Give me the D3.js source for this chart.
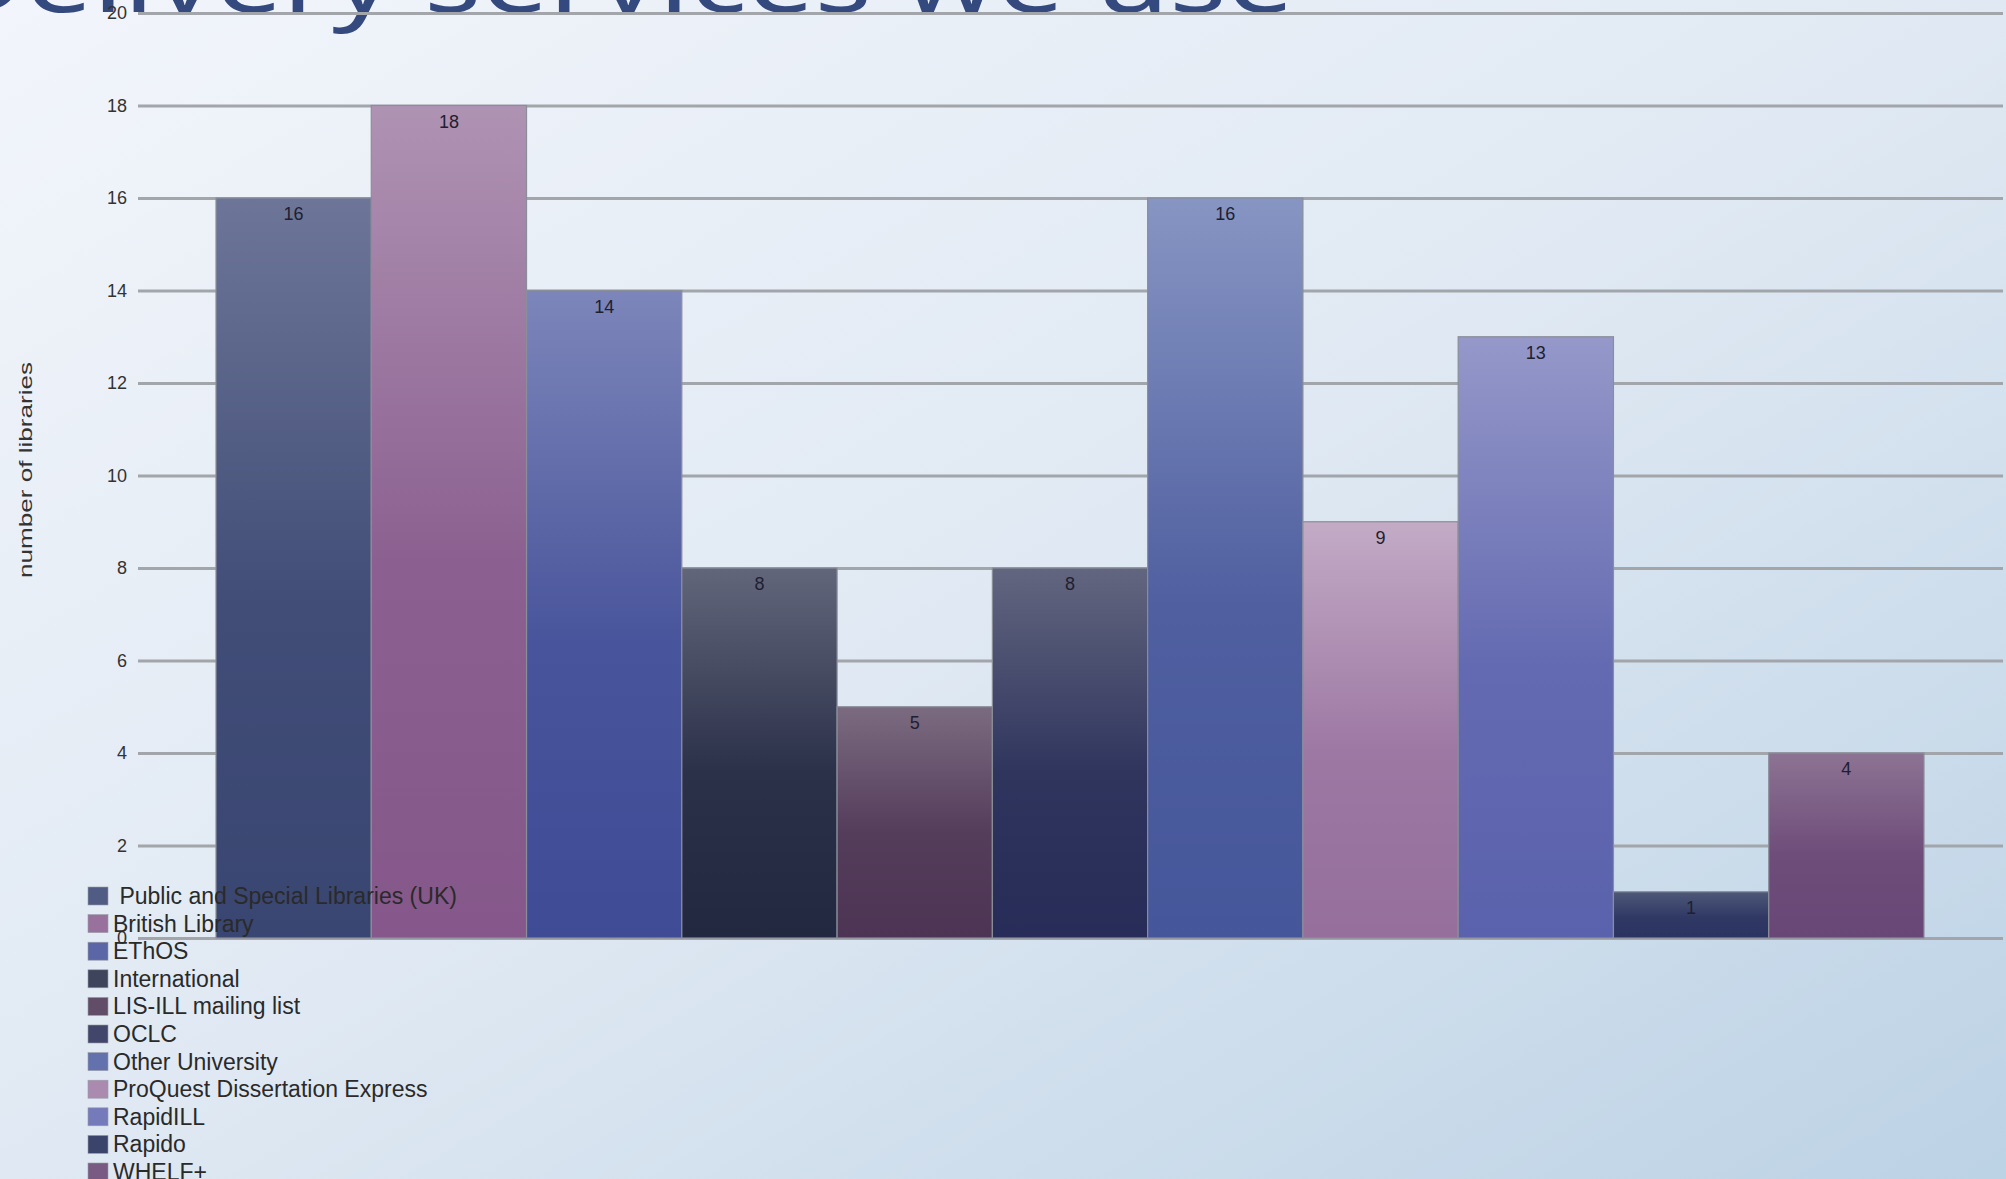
<!DOCTYPE html>
<html>
<head>
<meta charset="utf-8">
<script src="https://cdn.jsdelivr.net/npm/d3@7"></script>
<style>
  html, body { margin: 0; padding: 0; overflow: hidden; }
  svg { display: block; }
</style>
</head>
<body>
<svg id="chart" width="2006" height="1179"></svg>
<script>
// ---- data ----
const categories = [
  "Public and Special Libraries (UK)",
  "British Library",
  "EThOS",
  "International",
  "LIS-ILL mailing list",
  "OCLC",
  "Other University",
  "ProQuest Dissertation Express",
  "RapidILL",
  "Rapido",
  "WHELF+"
];
const values = [16, 18, 14, 8, 5, 8, 16, 9, 13, 1, 4];
const legendLabels = [
  " Public and Special Libraries (UK)",
  "British Library",
  "EThOS",
  "International",
  "LIS-ILL mailing list",
  "OCLC",
  "Other University",
  "ProQuest Dissertation Express",
  "RapidILL",
  "Rapido",
  "WHELF+"
];
const yTicks = [0, 2, 4, 6, 8, 10, 12, 14, 16, 18, 20];
const titleText = "Delivery services we use";
const yTitle = "number of libraries";

// ---- palette ----
const topColors = ["#6d7698", "#af93b3", "#7d86ba", "#62667b", "#7b6b80", "#62667f",
                   "#8795c3", "#c3abc6", "#9598c9", "#4e5878", "#8d7393"];
const bottomColors = ["#394671", "#85578a", "#3f4b95", "#212840", "#4d3454", "#272c58",
                      "#45569a", "#966f9d", "#5b62ad", "#2b3461", "#684676"];

const svg = d3.select("#chart");
const W = 2006, H = 1179;
const defs = svg.append("defs");

// background
const bg = defs.append("linearGradient").attr("id", "bg")
  .attr("x1", 0).attr("y1", 0).attr("x2", 1).attr("y2", 1);
bg.append("stop").attr("offset", 0).attr("stop-color", "#f2f5fb");
bg.append("stop").attr("offset", 0.5).attr("stop-color", "#e0e9f3");
bg.append("stop").attr("offset", 1).attr("stop-color", "#bcd2e5");
svg.append("rect").attr("width", W).attr("height", H).attr("fill", "url(#bg)");

// bar gradients
categories.forEach((c, i) => {
  const g = defs.append("linearGradient").attr("id", "bar" + i)
    .attr("x1", 0).attr("y1", 0).attr("x2", 0).attr("y2", 1);
  g.append("stop").attr("offset", 0).attr("stop-color", topColors[i]);
  g.append("stop").attr("offset", 0.55).attr("stop-color", d3.interpolateRgb(topColors[i], bottomColors[i])(0.85));
  g.append("stop").attr("offset", 1).attr("stop-color", bottomColors[i]);
});

// scales
const x = d3.scaleBand().domain(categories).range([216, 1924]).padding(0);
const y = d3.scaleLinear().domain([0, 20]).range([938, 13]);

// title (partly cut off at top)
svg.append("text")
  .attr("x", -62).attr("y", 12)
  .attr("textLength", 1356).attr("lengthAdjust", "spacingAndGlyphs")
  .attr("font-family", "'Noto Sans', 'DejaVu Sans', sans-serif")
  .attr("font-size", 92)
  .attr("fill", "#34497e")
  .text(titleText);

// y axis with gridlines
const gridLeft = 138, gridRight = 2003;
const axis = d3.axisLeft(y).tickValues(yTicks)
  .tickSize(-(gridRight - gridLeft)).tickPadding(11)
  .tickFormat(d3.format("d"));
const ga = svg.append("g").attr("transform", `translate(${gridLeft},0)`).call(axis);
ga.select(".domain").remove();
ga.selectAll(".tick line").attr("stroke", "#a2a6ab").attr("stroke-width", 3);
ga.selectAll(".tick text")
  .attr("font-family", "'Liberation Sans', Arial, sans-serif")
  .attr("font-size", 18).attr("fill", "#333");

// y axis title
svg.append("text")
  .attr("transform", "translate(32,470) rotate(-90)")
  .attr("text-anchor", "middle")
  .attr("textLength", 216).attr("lengthAdjust", "spacingAndGlyphs")
  .attr("font-family", "'Liberation Sans', Arial, sans-serif")
  .attr("font-size", 19).attr("fill", "#333")
  .text(yTitle);

// bars
svg.append("g").selectAll("rect")
  .data(values)
  .join("rect")
  .attr("x", (d, i) => x(categories[i]))
  .attr("y", d => y(d))
  .attr("width", x.bandwidth())
  .attr("height", d => y(0) - y(d))
  .attr("fill", (d, i) => `url(#bar${i})`)
  .attr("stroke", "#8a8e99").attr("stroke-width", 1.2);

// value labels
svg.append("g").selectAll("text")
  .data(values)
  .join("text")
  .attr("x", (d, i) => x(categories[i]) + x.bandwidth() / 2)
  .attr("y", d => y(d) + 22)
  .attr("text-anchor", "middle")
  .attr("font-family", "'Liberation Sans', Arial, sans-serif")
  .attr("font-size", 18).attr("fill", "#1e2030")
  .text(d => d);

// legend
const lg = svg.append("g").attr("transform", "translate(88,887)");
const item = lg.selectAll("g").data(legendLabels).join("g")
  .attr("transform", (d, i) => `translate(0,${i * 27.6})`);
item.append("rect")
  .attr("width", 20).attr("height", 18)
  .attr("fill", (d, i) => d3.interpolateRgb(topColors[i], bottomColors[i])(0.55))
  .attr("stroke", "#9a9ca8").attr("stroke-width", 0.6);
item.append("text")
  .attr("x", 25).attr("y", 17)
  .style("white-space", "pre")
  .attr("font-family", "'Liberation Sans', Arial, sans-serif")
  .attr("font-size", 23).attr("fill", "#2a2a2a")
  .text(d => d);
</script>
</body>
</html>
